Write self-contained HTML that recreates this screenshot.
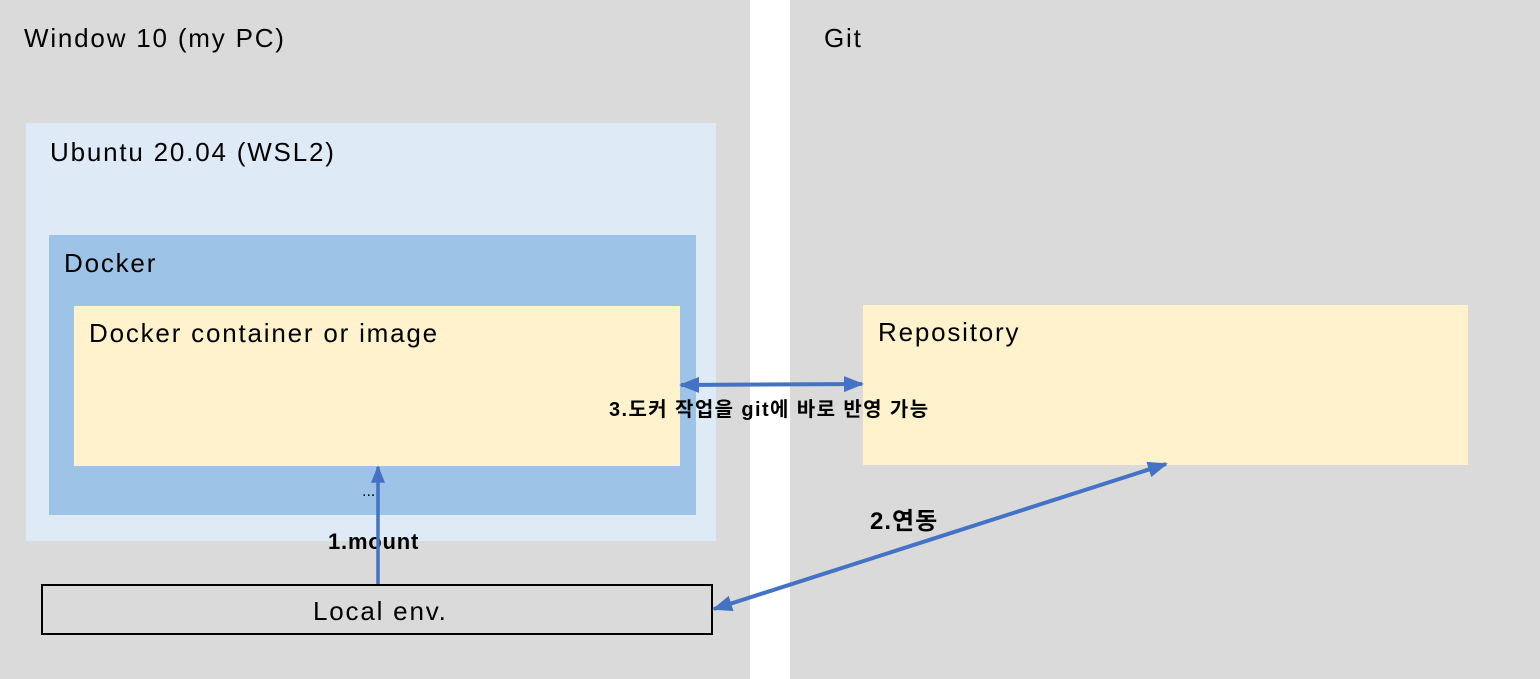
<!DOCTYPE html>
<html><head><meta charset="utf-8"><style>
body{margin:0;width:1540px;height:679px;position:relative;overflow:hidden;background:#fff;font-family:"Liberation Sans","Noto Sans CJK KR",sans-serif;}
div{position:absolute;box-sizing:border-box;}
.t{font-size:26px;color:#000;white-space:nowrap;line-height:1;letter-spacing:1.8px;}
.b{font-size:21px;font-weight:bold;white-space:nowrap;line-height:1;}
</style></head><body>
<div style="left:0;top:0;width:750px;height:679px;background:#dadada"></div>
<div style="left:790px;top:0;width:750px;height:679px;background:#dadada"></div>
<div style="left:26px;top:123px;width:690px;height:418px;background:#deebf7"></div>
<div style="left:49px;top:235px;width:647px;height:280px;background:#9dc3e6"></div>
<div style="left:74px;top:306px;width:606px;height:160px;background:#fff2cc"></div>
<div style="left:863px;top:305px;width:605px;height:160px;background:#fff2cc"></div>
<div style="left:41px;top:584px;width:672px;height:51px;border:2px solid #000"></div>
<div class="t" style="left:24px;top:25px">Window 10 (my PC)</div>
<div class="t" style="left:824px;top:25px">Git</div>
<div class="t" style="left:50px;top:139px">Ubuntu 20.04 (WSL2)</div>
<div class="t" style="left:64px;top:250px">Docker</div>
<div class="t" style="left:89px;top:320px">Docker container or image</div>
<div class="t" style="left:878px;top:319px">Repository</div>
<div class="t" style="left:313px;top:598px">Local env.</div>
<div style="left:362px;top:484px;font-size:16px;line-height:1">...</div>
<div class="b" style="left:328px;top:531px;font-size:22px;letter-spacing:0.8px">1.mount</div>
<div class="b" style="left:870px;top:510px;font-size:24px;letter-spacing:1px">2.연동</div>
<div class="b" style="left:609px;top:400px;font-size:20px;letter-spacing:1.4px">3.도커 작업을 git에 바로 반영 가능</div>
<svg width="1540" height="679" style="position:absolute;left:0;top:0">
<defs><marker id="a" markerWidth="5" markerHeight="4" refX="4.5" refY="2" orient="auto-start-reverse" markerUnits="strokeWidth"><path d="M0,0L5,2L0,4z" fill="#4472c4"/></marker></defs>
<g stroke="#4472c4" stroke-width="4" fill="none">
<line x1="378" y1="584" x2="378" y2="467" marker-end="url(#a)" stroke-width="3.5"/>
<line x1="681" y1="385" x2="862" y2="384" marker-start="url(#a)" marker-end="url(#a)"/>
<line x1="714" y1="609" x2="1166" y2="464" marker-start="url(#a)" marker-end="url(#a)"/>
</g></svg>
</body></html>
